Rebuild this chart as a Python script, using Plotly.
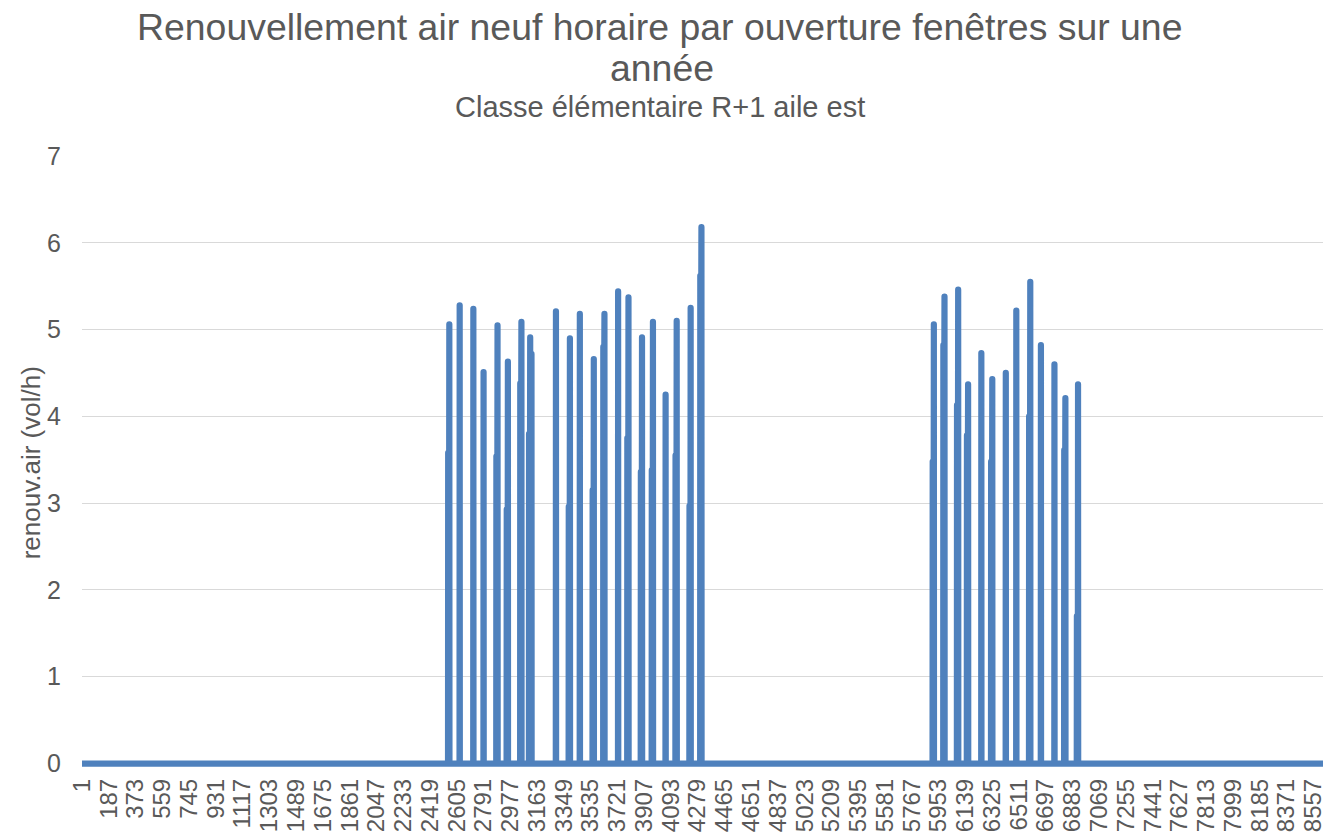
import plotly.graph_objects as go

# Heures de l'année (index 1 à 8760)
NB_HEURES = 8760

# Pics horaires de renouvellement d'air (heure, valeur du pic en vol/h)
heure_pic = [2553, 2625, 2720, 2791, 2888, 2960, 3054, 3115, 3124,
             3294, 3391, 3460, 3557, 3631, 3726, 3798, 3892, 3968, 4056, 4133, 4230, 4305,
             5920, 5994, 6089, 6158, 6250, 6326, 6420, 6493, 6590, 6664, 6758, 6834, 6922]
pic = [5.06, 5.28, 5.24, 4.51, 5.05, 4.63, 5.09, 4.91, 4.72,
       5.21, 4.90, 5.18, 4.66, 5.18, 5.44, 5.37, 4.91, 5.09, 4.25, 5.10, 5.25, 6.18,
       5.06, 5.38, 5.46, 4.37, 4.73, 4.43, 4.50, 5.22, 5.55, 4.82, 4.60, 4.21, 4.37]
# Palier d'ouverture précédant le pic (0 = pas de palier)
epaule = [3.58, 0, 0, 0, 3.54, 2.93, 4.38, 3.80, 0,
          0, 2.96, 0, 3.15, 4.80, 0, 3.75, 3.36, 3.38, 0, 3.55, 2.97, 5.62,
          3.48, 4.82, 4.13, 3.78, 0, 3.48, 0, 0, 4.00, 0, 0, 3.61, 1.70]
DUREE_EPAULE = 8  # heures

# Étiquettes de l'axe des heures
pas_etiquette = 186
ticks_x = list(range(1, NB_HEURES + 1, pas_etiquette))
ticks_y = [0, 1, 2, 3, 4, 5, 6, 7]

# Série horaire
heures = list(range(1, NB_HEURES + 1))
valeurs = [0.0] * NB_HEURES
for h, v, e in zip(heure_pic, pic, epaule):
    if e > 0:
        for k in range(h - DUREE_EPAULE, h):
            valeurs[k - 1] = e
    valeurs[h - 1] = v

# Mise en page (pixels)
W, H = 1326, 835
left, top = 81.6, 156.0
px_unite = 608.0 / 7.0
y_min = -0.04
plot_h = (7 - y_min) * px_unite
bottom = H - top - plot_h
plot_w = W - left
px_heure = 0.1443
x_max = 0.5 + plot_w / px_heure

GRIS = "#595959"
BLEU = "#4F81BD"
POLICE = "Liberation Sans, Arial, sans-serif"


def px_x(px):
    return (px - left) / plot_w


def px_y(py):
    return (H - bottom - py) / plot_h


def texte(t, x, y, taille, angle=0):
    return dict(text=t, textangle=angle, xref="paper", yref="paper",
                x=px_x(x), y=px_y(y), xanchor="center", yanchor="middle",
                showarrow=False, font=dict(size=taille, color=GRIS, family=POLICE))


fig = go.Figure()
fig.add_trace(go.Scatter(
    x=heures, y=valeurs, mode="lines",
    line=dict(color=BLEU, width=6.2, simplify=False),
    hoverinfo="skip", showlegend=False,
))

fig.update_layout(
    width=W, height=H,
    margin=dict(l=left, r=0, t=top, b=bottom, pad=0),
    paper_bgcolor="white", plot_bgcolor="white",
    font=dict(family=POLICE, color=GRIS, size=24),
    xaxis=dict(
        range=[0.5, x_max], tickmode="array", tickvals=ticks_x,
        ticktext=[str(t) for t in ticks_x], tickangle=-90,
        showgrid=False, zeroline=False, showline=False, ticks="",
        tickfont=dict(size=24, color=GRIS), ticklabelstandoff=6,
        ticklabeloverflow="allow",
    ),
    yaxis=dict(
        range=[y_min, 7], tickmode="array", tickvals=ticks_y,
        showgrid=True, gridcolor="#D9D9D9", gridwidth=1.3,
        zeroline=False, showline=False, ticks="",
        tickfont=dict(size=25, color=GRIS), ticklabelstandoff=20,
    ),
    annotations=[
        texte("Renouvellement air neuf horaire par ouverture fenêtres sur une", 661, 27, 37.4),
        texte("année", 663, 68, 37.4),
        texte("Classe élémentaire R+1 aile est", 661, 107, 29),
        texte("renouv.air (vol/h)", 30, 463, 26, angle=-90),
    ],
)

# Jointures arrondies pour le tracé de la courbe
post = """
var gd = document.getElementById('{plot_id}');
function arrondir() {
  gd.querySelectorAll('.scatterlayer path.js-line').forEach(function (p) {
    p.style.strokeLinejoin = 'round';
    p.style.strokeLinecap = 'round';
  });
}
arrondir();
gd.on('plotly_afterplot', arrondir);
"""

fig.write_html("out.html", post_script=post)
